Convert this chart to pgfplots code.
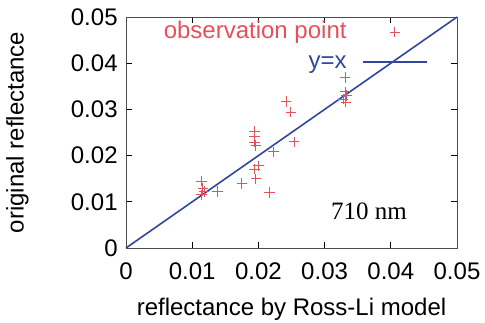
\documentclass[border=0pt]{standalone}
\usepackage{fontspec}
\setmainfont{Liberation Sans}
\newfontfamily\serifnm{Liberation Serif}
\usepackage{pgfplots}
\pgfplotsset{compat=1.18}
\definecolor{obsred}{RGB}{230,80,90}
\definecolor{lineblue}{RGB}{50,70,160}
\begin{document}
\fontsize{12}{14}\selectfont
\begin{tikzpicture}
\path[use as bounding box] (-63pt,-37pt) rectangle (179.5pt,124pt);
\begin{axis}[
  scale only axis,
  width=165.5pt, height=115.5pt,
  xmin=0, xmax=0.05, ymin=0, ymax=0.05,
  xtick={0,0.01,0.02,0.03,0.04,0.05},
  ytick={0,0.01,0.02,0.03,0.04,0.05},
  xticklabels={0,0.01,0.02,0.03,0.04,0.05},
  yticklabels={0,0.01,0.02,0.03,0.04,0.05},
  scaled ticks=false,
  /pgf/number format/assume math mode=true,
  tick style={black, thin},
  major tick length=3pt,
  axis line style={black!70, thin},
  xticklabel style={yshift=-3pt},
  xlabel={reflectance by Ross-Li model},
  ylabel={original reflectance},
  xlabel style={yshift=-1pt},
  ylabel style={yshift=13pt},
  clip=false,
]
% observation points
\addplot[only marks, mark=+, mark size=2.6pt, obsred, mark options={obsred, line width=0.5pt}]
coordinates {
(0.0114,0.0145) (0.0116,0.0129) (0.0118,0.0122) (0.0114,0.0115)
(0.0138,0.0122) (0.0175,0.0140)
(0.0194,0.0252) (0.0194,0.0241) (0.0194,0.0229) (0.0196,0.0222)
(0.0200,0.0178) (0.0194,0.0171) (0.0196,0.0150)
(0.0217,0.0120) (0.0223,0.0208)
(0.0242,0.0317) (0.0249,0.0294) (0.0254,0.0230)
(0.0331,0.0369) (0.0331,0.0338) (0.0333,0.0330) (0.0328,0.0322) (0.0332,0.0316)
};
% y = x
\addplot[lineblue, line width=0.8pt, no marks] coordinates {(0,0) (0.05,0.05)};
% key samples
\addplot[only marks, mark=+, mark size=2.6pt, obsred, mark options={obsred, line width=0.5pt}]
coordinates {(0.04063,0.04675)};
\addplot[lineblue, line width=0.8pt, no marks] coordinates {(0.0358,0.04026) (0.04547,0.04026)};
\node[anchor=mid east, text=obsred, inner sep=0pt] at (axis cs:0.03338,0.04675) {observation point};
\node[anchor=mid east, text=lineblue, inner sep=0pt] at (axis cs:0.03338,0.04026) {y=x};
\node[font=\serifnm\fontsize{12.5}{14}\selectfont] at (axis cs:0.0367,0.0080) {710 nm};
\end{axis}
\end{tikzpicture}
\end{document}
